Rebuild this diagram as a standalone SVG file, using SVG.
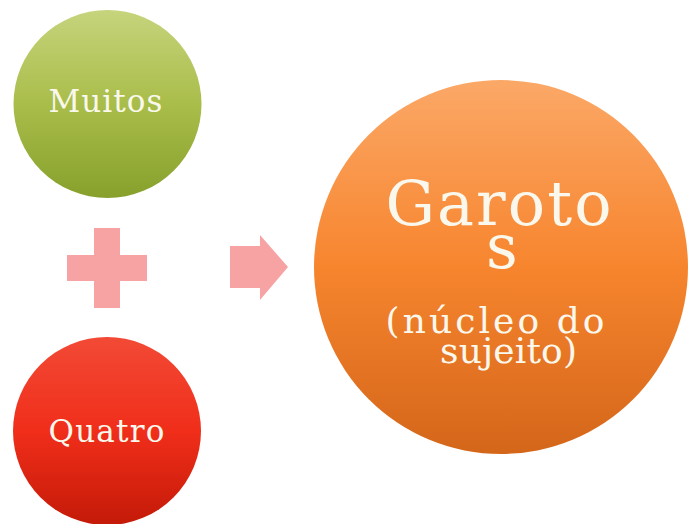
<svg xmlns="http://www.w3.org/2000/svg" width="689" height="524" viewBox="0 0 689 524">
<defs>
<linearGradient id="gGreen" x1="0" y1="0" x2="0" y2="1">
<stop offset="0" stop-color="#C6D47C"/>
<stop offset="0.5" stop-color="#A9BD4A"/>
<stop offset="1" stop-color="#87A02C"/>
</linearGradient>
<linearGradient id="gRed" x1="0" y1="0" x2="0" y2="1">
<stop offset="0" stop-color="#F24A36"/>
<stop offset="0.5" stop-color="#F02E1A"/>
<stop offset="1" stop-color="#C41A08"/>
</linearGradient>
<linearGradient id="gOrange" x1="0" y1="0" x2="0" y2="1">
<stop offset="0" stop-color="#FBA867"/>
<stop offset="0.5" stop-color="#F7852E"/>
<stop offset="1" stop-color="#D4661A"/>
</linearGradient>
<style>
.lbl{font-family:"DejaVu Serif","Liberation Serif",serif;fill:#FAF8EC;text-anchor:middle}
.sym{fill:#F7A3A3}
</style>
</defs>
<rect width="689" height="524" fill="#FFFFFF"/>
<g id="muitos">
<circle cx="107.5" cy="104" r="94" fill="url(#gGreen)"/>
<text class="lbl" x="105.5" y="112" font-size="31" textLength="114">Muitos</text>
</g>
<g id="quatro">
<circle cx="107" cy="431" r="94" fill="url(#gRed)"/>
<text class="lbl" x="106.5" y="442" font-size="31" textLength="116">Quatro</text>
</g>
<g id="connectors">
<path id="plus" class="sym" d="M94,228 H120 V255 H147 V281 H120 V308 H94 V281 H67 V255 H94 Z"/>
<path id="arrow" class="sym" d="M230,246 H260 V235 L288,267 L260,300 V288 H230 Z"/>
</g>
<g id="garotos">
<circle cx="501" cy="267" r="187" fill="url(#gOrange)"/>
<text class="lbl" x="498.5" y="225" font-size="62" textLength="226">Garoto</text>
<text class="lbl" x="502" y="268" font-size="62">s</text>
<text class="lbl" x="495" y="333" font-size="36" textLength="219">(núcleo do</text>
<text class="lbl" x="508.5" y="363" font-size="36" textLength="137">sujeito)</text>
</g>
</svg>
